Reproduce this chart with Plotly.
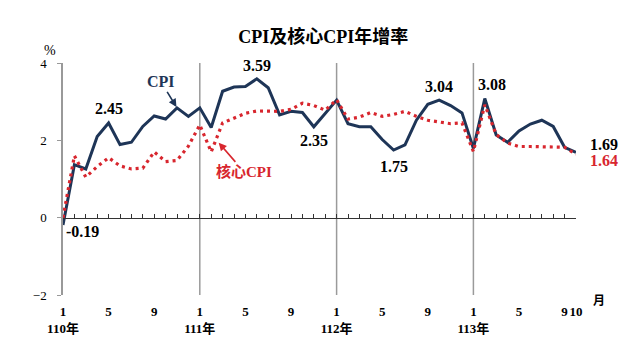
import plotly.graph_objects as go

# months: 110年1月 .. 113年10月
years = ["110年", "111年", "112年", "113年"]
n_months = 46
cpi = [
    -0.19, 1.37, 1.26, 2.10, 2.45, 1.89, 1.95, 2.36, 2.63, 2.55, 2.84, 2.62,
    2.84, 2.33, 3.27, 3.38, 3.39, 3.59, 3.36, 2.66, 2.75, 2.72, 2.35, 2.71,
    3.04, 2.43, 2.35, 2.35, 2.02, 1.75, 1.88, 2.52, 2.93, 3.04, 2.90, 2.71,
    1.79, 3.08, 2.14, 1.95, 2.24, 2.42, 2.52, 2.36, 1.82, 1.69,
]
core = [
    0.00, 1.60, 1.05, 1.32, 1.55, 1.34, 1.26, 1.28, 1.70, 1.45, 1.48, 1.85,
    2.40, 1.70, 2.45, 2.58, 2.70, 2.76, 2.75, 2.75, 2.80, 2.96, 2.90, 2.78,
    3.05, 2.55, 2.60, 2.72, 2.62, 2.67, 2.75, 2.62, 2.52, 2.48, 2.43, 2.45,
    1.71, 2.92, 2.15, 1.93, 1.84, 1.84, 1.84, 1.84, 1.82, 1.64,
]
tick_idx = [0, 4, 8, 12, 16, 20, 24, 28, 32, 36, 40, 44, 45]
tick_txt = ["1<br>110年", "5", "9", "1<br>111年", "5", "9", "1<br>112年",
            "5", "9", "1<br>113年", "5", "9", "10"]
y_ticks = [-2, 0, 2, 4]

x = list(range(n_months))
NAVY = "#1e3557"
RED = "#d8262e"
SERIF = "Liberation Serif, Times New Roman, Noto Sans CJK TC, serif"

fig = go.Figure()
fig.add_trace(go.Scatter(x=x, y=core, mode="lines", xaxis="x2",
                         line=dict(color=RED, width=3.2, dash="3px,4px"),
                         hoverinfo="skip", showlegend=False))
fig.add_trace(go.Scatter(x=x, y=cpi, mode="lines",
                         line=dict(color=NAVY, width=3),
                         hoverinfo="skip", showlegend=False))

# year separator lines
for k in range(1, len(years)):
    fig.add_shape(type="line", xref="x", yref="paper", x0=12 * k, x1=12 * k,
                  y0=0, y1=1, line=dict(color="#9a9a9a", width=1.5), layer="below")

def lab(i, vals, text, xs=0, ys=0, color="black", xanchor="center"):
    fig.add_annotation(x=i, y=vals[i], text="<b>%s</b>" % text, showarrow=False,
                       xshift=xs, yshift=ys, xanchor=xanchor,
                       font=dict(family=SERIF, size=16, color=color))

lab(0, cpi, "-0.19", xs=1, ys=-6, xanchor="left")
lab(4, cpi, "2.45", ys=14)
lab(17, cpi, "3.59", ys=13)
lab(22, cpi, "2.35", ys=-14)
lab(29, cpi, "1.75", ys=-16)
lab(33, cpi, "3.04", ys=14)
lab(37, cpi, "3.08", xs=7, ys=14)
lab(45, cpi, "1.69", xs=12, ys=8, xanchor="left")
lab(45, core, "1.64", xs=12, ys=-6, xanchor="left", color=RED)

# series name callouts
fig.add_annotation(x=10, y=cpi[10], text="<b>CPI</b>", showarrow=True,
                   ax=-16, ay=-26, axref="pixel", ayref="pixel",
                   arrowhead=2, arrowsize=1, arrowwidth=1.6, arrowcolor=NAVY,
                   standoff=1, font=dict(family=SERIF, size=16, color=NAVY))
fig.add_annotation(x=13.6, y=1.96, text="<b>核心CPI</b>", showarrow=True,
                   ax=26, ay=30, axref="pixel", ayref="pixel",
                   arrowhead=2, arrowsize=1, arrowwidth=1.6, arrowcolor=RED,
                   standoff=1, font=dict(family=SERIF, size=15, color=RED))

fig.add_annotation(xref="paper", yref="paper", x=-0.04, y=1.095, text="%",
                   showarrow=False, font=dict(family=SERIF, size=14, color="black"))
fig.add_annotation(xref="x", yref="paper", x=45, xshift=23, y=-0.066,
                   text="<b>月</b>", showarrow=False,
                   font=dict(family=SERIF, size=12, color="black"))

fig.update_layout(
    width=640, height=360,
    margin=dict(l=63, r=64, t=63, b=65),
    paper_bgcolor="white", plot_bgcolor="white",
    title=dict(text="<b>CPI及核心CPI年增率</b>", x=0.505, xanchor="center",
               y=1 - 37 / 360, yanchor="middle",
               font=dict(family=SERIF, size=18, color="black")),
    xaxis=dict(range=[0, 45], tickvals=tick_idx,
               ticktext=["<b>%s</b>" % t.replace("<br>", "</b><br><b>") for t in tick_txt],
               showgrid=False, zeroline=False, showline=False, ticks="",
               ticklabelstandoff=7, automargin=False, tickangle=0,
               tickfont=dict(family=SERIF, size=13, color="black")),
    xaxis2=dict(range=[0, 45], overlaying="x", anchor="free", position=1 / 3,
                side="bottom", showgrid=False, zeroline=False, showline=True,
                linecolor="#333333", linewidth=1.2, ticks="inside", ticklen=4,
                tickcolor="#333333", dtick=1, tick0=0, showticklabels=False,
                automargin=False),
    yaxis=dict(range=[-2, 4], tickvals=y_ticks, showgrid=False, zeroline=False,
               showline=True, linecolor="#999999", linewidth=1.5, ticks="outside",
               ticklen=4, tickcolor="#999999", automargin=False,
               ticklabelstandoff=8,
               tickprefix="<b>", ticksuffix="</b>",
               tickfont=dict(family=SERIF, size=13, color="black")),
)
fig.write_html("out.html", config={"displayModeBar": False},
               post_script="document.body.style.margin='0';")
